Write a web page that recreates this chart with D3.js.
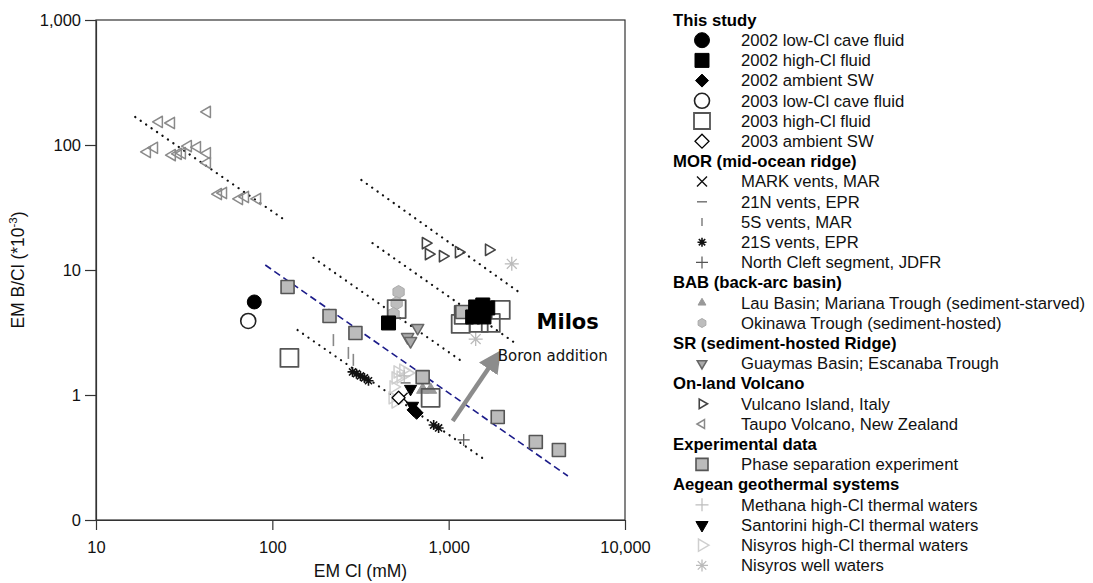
<!DOCTYPE html>
<html>
<head>
<meta charset="utf-8">
<script src="https://cdn.jsdelivr.net/npm/d3@7"></script>
<style>
  body { margin: 0; background: #fff; }
</style>
</head>
<body>
<script>
// ---- data: [EM Cl (mM), EM B/Cl (*10^-3)] ----
const lowCl2002 = [[79, 5.55]];
const highCl2002 = [[456, 3.77], [1423, 5.06], [1561, 5.25], [1666, 4.97], [1480, 4.53], [1368, 4.21], [1585, 4.21]];
const ambient2002 = [[632, 0.76], [658, 0.72]];
const lowCl2003 = [[73, 3.91]];
const highCl2003 = [[125, 1.98], [507, 4.87], [1170, 3.70], [1217, 4.37], [1974, 4.79], [1480, 3.77], [1733, 3.77], [790, 0.95]];
const ambient2003 = [[520, 0.95]];
const markVents = [[548, 0.95]];
const vents21N = [[570, 1.25]];
const vents5S = [[222, 2.75], [270, 2.17], [288, 1.91]];
const vents21S = [[285, 1.53], [300, 1.48], [316, 1.42], [333, 1.37], [351, 1.30], [822, 0.575], [877, 0.545]];
const northCleft = [[1217, 0.437]];
const lauBasin = [[790, 1.10], [712, 1.10]];
const okinawa = [[520, 6.67], [507, 5.44], [487, 4.45]];
const guaymas = [[667, 3.44], [585, 2.91], [608, 2.70]];
const vulcano = [[740, 16.4], [770, 13.4], [925, 12.9], [1140, 13.9], [1688, 14.5]];
const taupo = [[42.7, 184], [22.8, 153], [26.7, 150], [19.5, 88], [21.4, 95], [27.0, 83], [29.2, 85], [30.8, 86],
  [33.3, 98], [37.5, 96], [42.7, 86], [42.7, 72], [49.3, 40.5], [52.7, 41.3], [64.9, 37], [70.2, 38.4], [82.2, 37]];
const experiment = [[122, 7.31], [211, 4.29], [296, 3.13], [712, 1.39], [1898, 0.667], [3120, 0.421], [4217, 0.363], [1195, 4.61]];
const methana = [[560, 1.42]];
const santorini = [[608, 1.12], [624, 0.82]];
const nisyrosHighCl = [[513, 1.53], [553, 1.58], [500, 1.37], [534, 1.39], [487, 1.16], [481, 0.95], [500, 0.88], [585, 1.50]];
const nisyrosWell = [[2280, 11.2], [1423, 2.8]];

// trend lines (end points)
const dottedLines = [
  [[16.7, 167.5], [115.5, 25.6]],
  [[320, 52.5], [2500, 6.67]],
  [[370, 16.4], [2340, 2.65]],
  [[171, 12.5], [1202, 1.84]],
  [[139, 3.31], [1581, 0.308]]
];
const dashedLine = [[91.2, 10.96], [4744, 0.225]];
const boronArrow = [[1054, 0.62], [1850, 2.01]];

const xTicks = [10, 100, 1000, 10000];
const yTicks = [0.1, 1, 10, 100, 1000];

// ---- layout ----
const width = 1093, height = 583;
const plot = {left: 96, right: 625, top: 20, bottom: 520};
const sans = "'Liberation Sans', Arial, Helvetica, sans-serif";

const x = d3.scaleLog().domain([10, 10000]).range([plot.left, plot.right]);
const y = d3.scaleLog().domain([0.1, 1000]).range([plot.bottom, plot.top]);

function shape(type, s) {
  const h = s * 0.87;
  switch (type) {
    case "circle": return d3.symbol(d3.symbolCircle, Math.PI * s * s)();
    case "square": return `M${-s},${-s}H${s}V${s}H${-s}Z`;
    case "diamond": return `M0,${-s}L${s},0L0,${s}L${-s},0Z`;
    case "triUp": return `M0,${-s}L${h},${s * 0.5}L${-h},${s * 0.5}Z`;
    case "triDown": return `M0,${s}L${h},${-s * 0.5}L${-h},${-s * 0.5}Z`;
    case "triRight": return `M${s},0L${-s * 0.5},${h}L${-s * 0.5},${-h}Z`;
    case "triLeft": return `M${-s},0L${s * 0.5},${h}L${s * 0.5},${-h}Z`;
    case "times": return `M${-s},${-s}L${s},${s}M${-s},${s}L${s},${-s}`;
    case "cross": return `M${-s},0H${s}M0,${-s}V${s}`;
    case "dash": return `M${-s},0H${s}`;
    case "bar": return `M0,${-s}V${s}`;
    case "asterisk": {
      const d = s * 0.707;
      return `M${-s},0H${s}M0,${-s}V${s}M${-d},${-d}L${d},${d}M${-d},${d}L${d},${-d}`;
    }
    case "hexagon": {
      const pts = d3.range(6).map(i => [s * Math.cos(Math.PI / 3 * i + Math.PI / 6), s * Math.sin(Math.PI / 3 * i + Math.PI / 6)]);
      return "M" + pts.join("L") + "Z";
    }
  }
}

// draw order follows the original (light grey first, study data on top)
const series = [
  {key: "nisyrosHighCl", data: nisyrosHighCl, type: "triRight", s: 7, ls: 7, fill: "none", stroke: "#cfcfcf", sw: 1.5},
  {key: "methana", data: methana, type: "cross", s: 6, ls: 6.5, fill: "none", stroke: "#bdbdbd", sw: 1.2},
  {key: "nisyrosWell", data: nisyrosWell, type: "asterisk", s: 7, ls: 6, fill: "none", stroke: "#bbbbbb", sw: 1.3},
  {key: "taupo", data: taupo, type: "triLeft", s: 6.5, ls: 5, fill: "none", stroke: "#8a8a8a", sw: 1.5},
  {key: "vulcano", data: vulcano, type: "triRight", s: 6.5, ls: 5.5, fill: "none", stroke: "#444", sw: 1.6},
  {key: "okinawa", data: okinawa, type: "hexagon", s: 6.5, ls: 4.5, fill: "#bdbdbd", stroke: "#aaa", sw: 1},
  {key: "lauBasin", data: lauBasin, type: "triUp", s: 7, ls: 4.5, fill: "#999", stroke: "#999", sw: 1},
  {key: "guaymas", data: guaymas, type: "triDown", s: 7, ls: 5.5, fill: "#aaa", stroke: "#666", sw: 1.5},
  {key: "vents5S", data: vents5S, type: "bar", s: 6, ls: 4, fill: "none", stroke: "#888", sw: 1.6},
  {key: "vents21N", data: vents21N, type: "dash", s: 5, ls: 5, fill: "none", stroke: "#777", sw: 1.5},
  {key: "highCl2003", data: highCl2003, type: "square", s: 9, ls: 8, fill: "none", stroke: "#555", sw: 1.8},
  {key: "experiment", data: experiment, type: "square", s: 6.5, ls: 6, fill: "#bbb", stroke: "#555", sw: 1.6},
  {key: "vents21S", data: vents21S, type: "asterisk", s: 5, ls: 4.5, fill: "none", stroke: "#111", sw: 1.6},
  {key: "markVents", data: markVents, type: "times", s: 5, ls: 5, fill: "none", stroke: "#111", sw: 1.4},
  {key: "northCleft", data: northCleft, type: "cross", s: 6, ls: 6, fill: "none", stroke: "#555", sw: 1.2},
  {key: "santorini", data: santorini, type: "triDown", s: 7, ls: 7, fill: "#000", stroke: "#000", sw: 1},
  {key: "ambient2002", data: ambient2002, type: "diamond", s: 6.5, ls: 6.5, fill: "#000", stroke: "#000", sw: 1},
  {key: "ambient2003", data: ambient2003, type: "diamond", s: 6.5, ls: 7, fill: "#fff", stroke: "#000", sw: 1.3},
  {key: "highCl2002", data: highCl2002, type: "square", s: 7, ls: 7, fill: "#000", stroke: "#000", sw: 1},
  {key: "lowCl2002", data: lowCl2002, type: "circle", s: 7, ls: 7.5, fill: "#000", stroke: "#000", sw: 1},
  {key: "lowCl2003", data: lowCl2003, type: "circle", s: 7.5, ls: 7.5, fill: "#fff", stroke: "#222", sw: 1.6}
];
const styleOf = Object.fromEntries(series.map(d => [d.key, d]));

const legendGroups = [
  {header: "This study", items: [
    ["lowCl2002", "2002 low-Cl cave fluid"], ["highCl2002", "2002 high-Cl fluid"], ["ambient2002", "2002 ambient SW"],
    ["lowCl2003", "2003 low-Cl cave fluid"], ["highCl2003", "2003 high-Cl fluid"], ["ambient2003", "2003 ambient SW"]]},
  {header: "MOR (mid-ocean ridge)", items: [
    ["markVents", "MARK vents, MAR"], ["vents21N", "21N vents, EPR"], ["vents5S", "5S vents, MAR"],
    ["vents21S", "21S vents, EPR"], ["northCleft", "North Cleft segment, JDFR"]]},
  {header: "BAB (back-arc basin)", items: [
    ["lauBasin", "Lau Basin; Mariana Trough (sediment-starved)"], ["okinawa", "Okinawa Trough (sediment-hosted)"]]},
  {header: "SR (sediment-hosted Ridge)", items: [["guaymas", "Guaymas Basin; Escanaba Trough"]]},
  {header: "On-land Volcano", items: [["vulcano", "Vulcano Island, Italy"], ["taupo", "Taupo Volcano, New Zealand"]]},
  {header: "Experimental data", items: [["experiment", "Phase separation experiment"]]},
  {header: "Aegean geothermal systems", items: [
    ["methana", "Methana high-Cl thermal waters"], ["santorini", "Santorini high-Cl thermal waters"],
    ["nisyrosHighCl", "Nisyros high-Cl thermal waters"], ["nisyrosWell", "Nisyros well waters"]]}
];

window.onload = main;

function main() {
  const svg = d3.select("body").append("svg")
    .attr("width", width).attr("height", height);

  // frame
  svg.append("rect")
    .attr("x", plot.left).attr("y", plot.top)
    .attr("width", plot.right - plot.left).attr("height", plot.bottom - plot.top)
    .attr("fill", "none").attr("stroke", "#333").attr("stroke-width", 1.2);

  const fmt = d3.format(",");
  const yAxis = svg.append("g").attr("transform", `translate(${plot.left},0)`)
    .call(d3.axisLeft(y).tickValues(yTicks).tickSize(11).tickSizeOuter(0)
      .tickFormat(v => v < 1 ? "0" : fmt(v)));
  const xAxis = svg.append("g").attr("transform", `translate(0,${plot.bottom})`)
    .call(d3.axisBottom(x).tickValues(xTicks).tickSize(10).tickSizeOuter(0).tickFormat(fmt));
  [xAxis, yAxis].forEach(a => {
    a.attr("font-family", sans).attr("font-size", 16.5);
    a.select(".domain").attr("stroke", "#333").attr("stroke-width", 1.2);
    a.selectAll(".tick line").attr("stroke", "#333").attr("stroke-width", 1.2);
    a.selectAll(".tick text").attr("fill", "#111");
  });
  yAxis.selectAll(".tick text").attr("x", -15);
  xAxis.selectAll(".tick text").attr("y", 21);

  svg.append("text")
    .attr("x", (plot.left + plot.right) / 2).attr("y", 577)
    .attr("text-anchor", "middle")
    .style("font-family", sans).style("font-size", "17.5px").attr("fill", "#111")
    .text("EM Cl (mM)");
  const yl = svg.append("text")
    .attr("transform", "translate(24,270) rotate(-90)")
    .attr("text-anchor", "middle")
    .style("font-family", sans).style("font-size", "17.5px").attr("fill", "#111");
  yl.append("tspan").text("EM B/Cl (*10");
  yl.append("tspan").attr("dy", -7).style("font-size", "11.5px").text("-3");
  yl.append("tspan").attr("dy", 7).text(")");

  const line = d3.line().x(d => x(d[0])).y(d => y(d[1]));

  svg.append("g").selectAll("path")
    .data(dottedLines)
    .join("path")
    .attr("d", line)
    .attr("fill", "none").attr("stroke", "#111").attr("stroke-width", 2.2)
    .attr("stroke-linecap", "round").attr("stroke-dasharray", "0.1,6.5");

  svg.append("path")
    .attr("d", line(dashedLine))
    .attr("fill", "none").attr("stroke", "#1c1c8a").attr("stroke-width", 1.6)
    .attr("stroke-dasharray", "7,4");

  // points
  const pts = svg.append("g");
  series.forEach(sr => {
    pts.append("g").selectAll("path")
      .data(sr.data)
      .join("path")
      .attr("transform", d => `translate(${x(d[0])},${y(d[1])})`)
      .attr("d", shape(sr.type, sr.s))
      .attr("fill", sr.fill).attr("stroke", sr.stroke).attr("stroke-width", sr.sw)
      .attr("stroke-linejoin", "round");
  });

  // boron arrow + labels
  svg.append("defs").append("marker")
    .attr("id", "head").attr("viewBox", "0 0 10 10")
    .attr("refX", 2).attr("refY", 5)
    .attr("markerWidth", 5).attr("markerHeight", 5)
    .attr("orient", "auto")
    .append("path").attr("d", "M0,0L10,5L0,10Z").attr("fill", "#8c8c8c");
  const [a0, a1] = boronArrow;
  svg.append("line")
    .attr("x1", x(a0[0])).attr("y1", y(a0[1]))
    .attr("x2", x(a1[0]) - 5).attr("y2", y(a1[1]) + 8)
    .attr("stroke", "#8c8c8c").attr("stroke-width", 4.5)
    .attr("marker-end", "url(#head)");

  svg.append("text")
    .attr("x", x(a1[0]) + 2).attr("y", y(a1[1]) + 4)
    .style("font-family", "'DejaVu Sans', sans-serif").style("font-size", "15px").attr("fill", "#111")
    .text("Boron addition");
  svg.append("text")
    .attr("x", x(3150)).attr("y", y(3.4))
    .style("font-family", "'DejaVu Sans', sans-serif").style("font-weight", "bold")
    .style("font-size", "21px").attr("fill", "#000")
    .text("Milos");

  // legend
  const lg = svg.append("g").style("font-family", sans).style("font-size", "16.7px");
  let row = 0;
  const rowY = i => 20 + i * 20.2;
  legendGroups.forEach(g => {
    lg.append("text")
      .attr("x", 673).attr("y", rowY(row)).attr("dy", "0.35em")
      .style("font-weight", "bold").attr("fill", "#000")
      .text(g.header);
    row++;
    g.items.forEach(([key, label]) => {
      const st = styleOf[key];
      lg.append("path")
        .attr("transform", `translate(702,${rowY(row)})`)
        .attr("d", shape(st.type, st.ls))
        .attr("fill", st.fill).attr("stroke", st.stroke).attr("stroke-width", st.sw);
      lg.append("text")
        .attr("x", 741).attr("y", rowY(row)).attr("dy", "0.35em")
        .attr("fill", "#111")
        .text(label);
      row++;
    });
  });
}
</script>
</body>
</html>
